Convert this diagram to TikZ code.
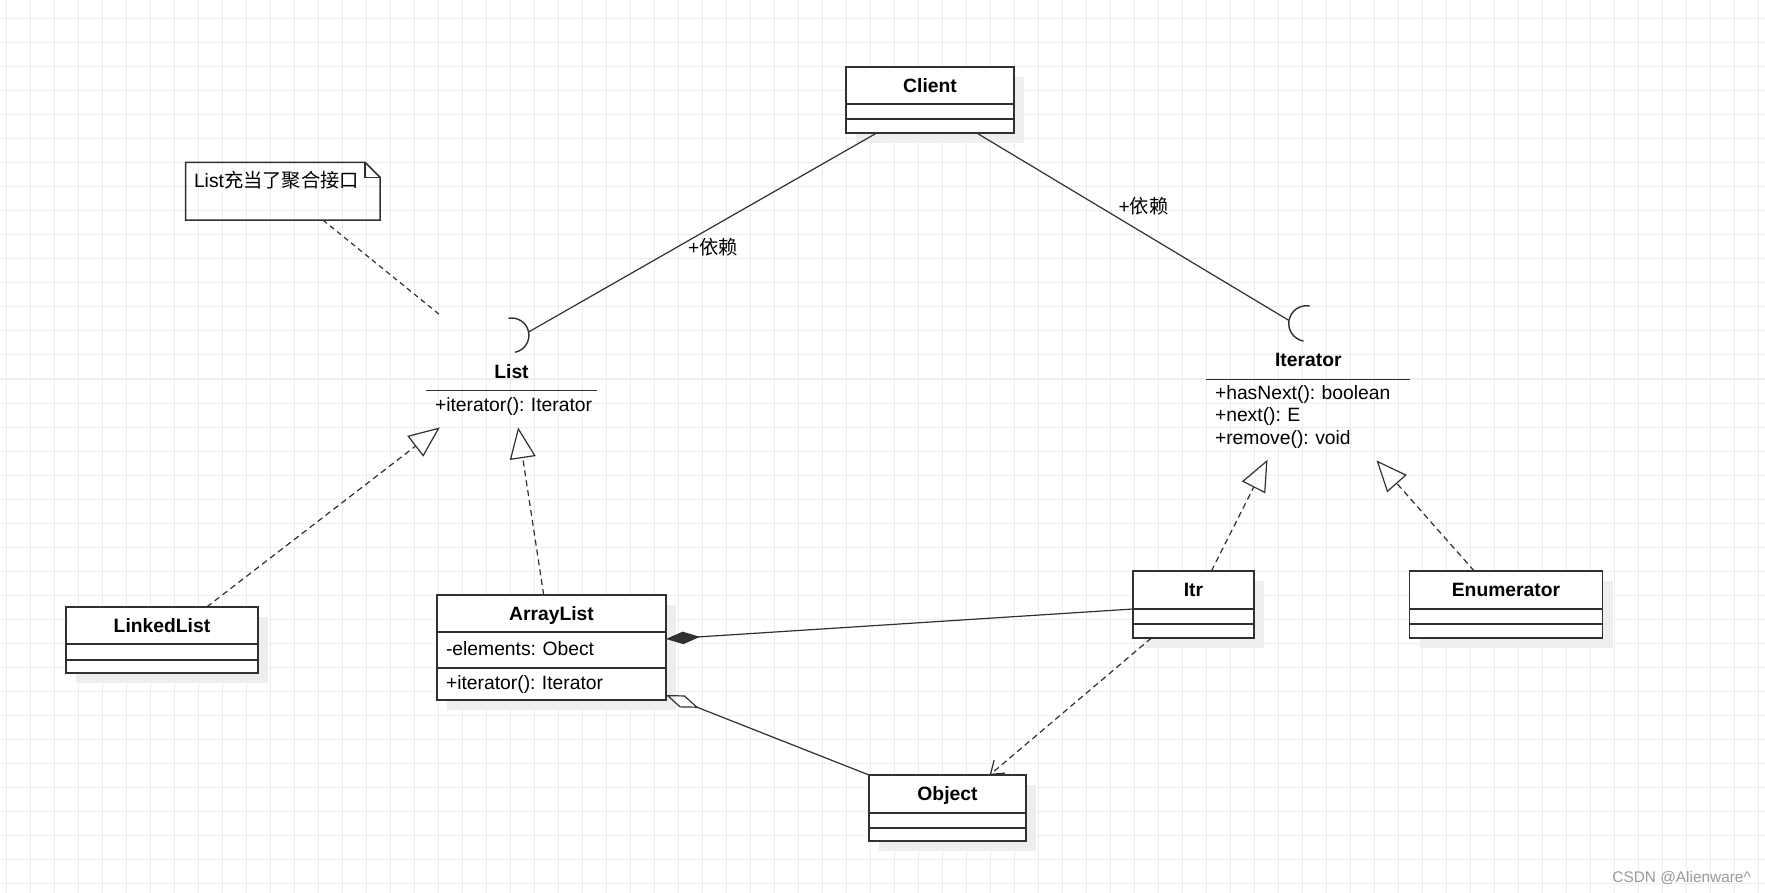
\documentclass[tikz,border=0pt]{standalone}
\usepackage{fontspec}
\setmainfont{Liberation Sans}
\newfontfamily\cjk{Noto Sans CJK SC}
\usepackage{xcolor}
\usepackage{tikz}
\usetikzlibrary{arrows.meta,positioning,calc,shadows}

\definecolor{gridgray}{HTML}{EDEDED}
\definecolor{linegray}{HTML}{303030}
\definecolor{shadowgray}{HTML}{EEEEEE}
\definecolor{markgray}{HTML}{999999}
\newcommand{\umlsize}{\fontsize{19.3pt}{22.2pt}\selectfont}
\frenchspacing

\begin{document}
\begin{tikzpicture}[x=1pt, y=-1pt, >=Stealth,
    gridline/.style={gridgray, line width=1pt},
    boxshadow/.style={drop shadow={shadow xshift=10pt, shadow yshift=-10pt, fill=shadowgray, opacity=1}},
    classhead/.style={rectangle, draw=linegray, line width=1.5pt, fill=white, outer sep=0pt, inner sep=0pt,
        font=\umlsize\bfseries, text height=13.9pt, text depth=0pt, boxshadow},
    compart/.style={rectangle, draw=linegray, line width=1.5pt, fill=white, outer sep=0pt, inner sep=0pt, boxshadow},
    member/.style={compart, inner xsep=9pt, align=left, font=\umlsize, text height=13.9pt, text depth=2pt},
    ifacename/.style={inner sep=0pt, font=\umlsize\bfseries, text height=13.9pt, text depth=0pt},
    ifacemember/.style={inner xsep=9pt, inner ysep=0pt, align=left, font=\umlsize},
    boxline/.style={linegray, line width=1.5pt},
    assoc/.style={linegray, line width=1.2pt},
    sockline/.style={linegray, line width=1.4pt},
    lbl/.style={inner sep=0pt, font=\umlsize, text=black},
    realize/.style={assoc, dash pattern=on 6pt off 4pt, -{Triangle[open, length=31pt, width=26pt]}},
    dep/.style={assoc, dash pattern=on 6pt off 4pt, -{Straight Barb[length=12pt, width=17pt]}},
    compose/.style={assoc, {Diamond[length=34pt, width=12.5pt]}-},
    aggreg/.style={assoc, {Diamond[open, length=35pt, width=13pt]}-},
    noteline/.style={assoc, dash pattern=on 5pt off 4pt}
]
    \useasboundingbox (0,0) rectangle (1765,893);
    \fill[white] (0,0) rectangle (1765,893);

    % Background grid
    \foreach \gx in {6,30,...,1765} {
        \draw[gridline] (\gx,0) -- (\gx,893);
    }
    \foreach \gy in {19,43,...,893} {
        \draw[gridline] (0,\gy) -- (1765,\gy);
    }

    % Client
    \node[classhead, minimum width=168pt, minimum height=37pt] (client) at (930,85.5) {Client};
    \node[compart, minimum width=168pt, minimum height=15pt, below=0pt of client] (client-a) {};
    \node[compart, minimum width=168pt, minimum height=14pt, below=0pt of client-a] (client-m) {};

    % List (interface)
    \node[ifacename] (list) at (511.5,371.7) {List};
    \node[ifacemember, text width=153pt, minimum height=32pt, anchor=north] (list-m) at (511.5,390.7)
        {\mbox{+iterator(): Iterator}};
    \draw[boxline] (list-m.north west) -- (list-m.north east);
    \coordinate (list-sock) at (528.6,332);
    \draw[sockline] (list-sock) arc[start angle=-11, end angle=79, radius=17.3];
    \draw[sockline] (list-sock) arc[start angle=-11, end angle=-101, radius=17.3];

    % Iterator (interface)
    \node[ifacename] (iter) at (1308.3,360) {Iterator};
    \node[ifacemember, text width=186pt, minimum height=75pt, anchor=north] (iter-m) at (1308,379.3)
        {+hasNext(): boolean\\+next(): E\\+remove(): void};
    \draw[boxline] (iter-m.north west) -- (iter-m.north east);
    \coordinate (iter-sock) at (1289,320.5);
    \draw[sockline] (iter-sock) arc[start angle=189.7, end angle=99.7, radius=17.8];
    \draw[sockline] (iter-sock) arc[start angle=189.7, end angle=279.7, radius=17.8];

    % Note
    \node[minimum width=194.3pt, minimum height=57.3pt, inner sep=0pt] (note) at (282.85,191.35) {};
    \draw[boxline] (note.south west) -- (note.north west) -- ($(note.north east)+(-15,0)$)
        -- ($(note.north east)+(0,15)$) -- (note.south east) -- cycle;
    \draw[boxline] ($(note.north east)+(-15,0)$) |- ($(note.north east)+(0,15)$);
    \node[lbl, anchor=west] (note-txt) at ($(note.north west)+(8.3,17.5)$) {List{\cjk 充当了聚合接口}};
    \coordinate (note-end) at (440,315);

    % LinkedList
    \node[classhead, minimum width=192pt, minimum height=37pt] (linkedlist) at (162,625.5) {LinkedList};
    \node[compart, minimum width=192pt, minimum height=16pt, below=0pt of linkedlist] (linkedlist-a) {};
    \node[compart, minimum width=192pt, minimum height=13pt, below=0pt of linkedlist-a] (linkedlist-m) {};

    % ArrayList
    \node[classhead, minimum width=229pt, minimum height=37pt] (arraylist) at (551.5,613.5) {ArrayList};
    \node[member, text width=211pt, minimum height=36pt, below=0pt of arraylist] (arraylist-a) {-elements: Obect};
    \node[member, text width=211pt, minimum height=32pt, below=0pt of arraylist-a] (arraylist-m) {+iterator(): Iterator};

    % Itr
    \node[classhead, minimum width=121pt, minimum height=38pt] (itr) at (1193.5,590) {Itr};
    \node[compart, minimum width=121pt, minimum height=15pt, below=0pt of itr] (itr-a) {};
    \node[compart, minimum width=121pt, minimum height=14pt, below=0pt of itr-a] (itr-m) {};

    % Enumerator
    \node[classhead, minimum width=193pt, minimum height=38pt] (enum) at (1506,590) {Enumerator};
    \node[compart, minimum width=193pt, minimum height=15pt, below=0pt of enum] (enum-a) {};
    \node[compart, minimum width=193pt, minimum height=14pt, below=0pt of enum-a] (enum-m) {};

    % Object
    \node[classhead, minimum width=157pt, minimum height=38pt] (object) at (947.5,794) {Object};
    \node[compart, minimum width=157pt, minimum height=15pt, below=0pt of object] (object-a) {};
    \node[compart, minimum width=157pt, minimum height=13pt, below=0pt of object-a] (object-m) {};

    % Client depends on both interfaces
    \draw[assoc] ($(client-m.south west)+(30.7,0)$) -- node[lbl, pos=0.47, yshift=-21pt] (use-list) {+{\cjk 依赖}} (list-sock);
    \draw[assoc] ($(client-m.south west)+(130.7,0)$) -- node[lbl, pos=0.534, yshift=27pt] (use-iter) {+{\cjk 依赖}} (iter-sock);

    % Note anchor
    \draw[noteline] ($(note.south west)+(137.6,0)$) -- (note-end);

    % Realizations
    \draw[realize] ($(linkedlist.north west)+(140.7,0)$) -- ($(list-m.south west)+(14,4.3)$);
    \draw[realize] ($(arraylist.north west)+(106.7,0)$) -- ($(list-m.south west)+(92.3,4.3)$);
    \draw[realize] ($(itr.north west)+(78.4,0)$) -- ($(iter-m.south west)+(61.7,5)$);
    \draw[realize] ($(enum.north west)+(64.7,0)$) -- ($(iter-m.south west)+(170.7,5.7)$);

    % Composition, aggregation, dependency
    \draw[compose] ($(arraylist-a.north east)+(0,7)$) -- (itr-a.north west);
    \draw[aggreg] ($(arraylist-m.south east)+(0,-5)$) -- (object.north west);
    \draw[dep] ($(itr-m.south west)+(18.4,0)$) -- ($(object.north west)+(120.7,0)$);

    % Watermark
    \node[anchor=east, inner sep=0pt, text=markgray, font=\fontsize{15.4pt}{18pt}\selectfont] (mark) at (1751,877.7) {CSDN @Alienware\textasciicircum};

\end{tikzpicture}
\end{document}
